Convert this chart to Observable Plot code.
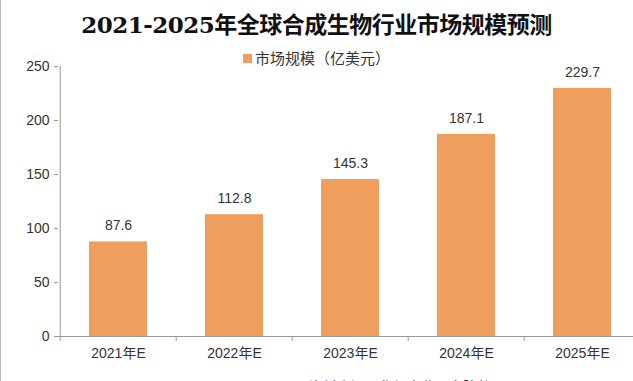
<!DOCTYPE html>
<html><head><meta charset="utf-8">
<script src="https://cdn.jsdelivr.net/npm/d3@7"></script>
<script src="https://cdn.jsdelivr.net/npm/@observablehq/plot@0.6"></script>
<style>
html,body{margin:0;padding:0;background:#fff;}
#wrap{position:relative;width:633px;height:381px;overflow:hidden;background:#fff;}
#lb{position:absolute;left:0;top:0;width:1px;height:381px;background:#b8b8b8;}
#title{position:absolute;left:0;width:633px;top:6px;text-align:center;font-family:"DejaVu Serif","Liberation Serif","Noto Sans CJK SC",serif;font-weight:bold;font-size:23px;color:#111;letter-spacing:-0.5px;}
#legend{position:absolute;left:0;width:633px;top:47px;text-align:center;font-family:"Liberation Sans","Noto Sans CJK SC",sans-serif;font-size:15px;color:#333;}
#legend span.sw{display:inline-block;width:9px;height:9px;background:#F09E5E;margin-right:3px;vertical-align:1px;}
#chart{position:absolute;left:0;top:56px;width:641px;}
#chart svg{max-width:none !important;}
#src{position:absolute;left:309px;top:376px;font-family:"Liberation Sans","Noto Sans CJK SC",sans-serif;font-size:14px;color:#333;white-space:nowrap;}
</style></head>
<body>
<div id="wrap">
  <div id="lb"></div>
  <div id="title"></div>
  <div id="legend"></div>
  <div id="chart"></div>
  <div id="src"></div>
</div>
<script>
const titleText = "2021-2025年全球合成生物行业市场规模预测";
const seriesName = "市场规模（亿美元）";
const sourceText = "资料来源：华经产业研究院整理";
const categories = ["2021年E","2022年E","2023年E","2024年E","2025年E"];
const values = [87.6, 112.8, 145.3, 187.1, 229.7];
const yTicks = [0, 50, 100, 150, 200, 250];

document.getElementById("title").textContent = titleText;
document.getElementById("legend").innerHTML = '<span class="sw"></span>' + seriesName;
document.getElementById("src").textContent = sourceText;

const data = categories.map((c, i) => ({cat: c, v: values[i]}));
const barColor = "#F09E5E";
const W = 641, marginLeft = 58;
const step = (W - marginLeft) / categories.length;

const chart = Plot.plot({
  width: W,
  height: 310,
  marginLeft: marginLeft,
  marginRight: 0,
  marginTop: 10,
  marginBottom: 30,
  style: {fontFamily: "'Liberation Sans', 'Noto Sans CJK SC', sans-serif", fontSize: "14px", color: "#333", background: "transparent", maxWidth: "none"},
  x: {domain: categories, paddingInner: 0.5, paddingOuter: 0.25, label: null},
  y: {domain: [0, 250], label: null},
  marks: [
    Plot.barY(data, {x: "cat", y: "v", fill: barColor}),
    Plot.text(data, {x: "cat", y: "v", text: d => d.v.toFixed(1), dy: -16, fontSize: 14, fill: "#333"}),
    Plot.axisY({ticks: yTicks, tickSize: 4, tickPadding: 5, stroke: "#999", fill: "#333", fontSize: 14, label: null}),
    Plot.axisX({tickSize: 0, tickPadding: 12, fill: "#333", fontSize: 14, label: null}),
    Plot.ruleX(categories, {x: d => d, dx: -step / 2, y1: 0, y2: -4.5, stroke: "#999"}),
    Plot.ruleY([0], {stroke: "#999"}),
    Plot.ruleX([0], {x: () => categories[0], dx: -step / 2, y1: 0, y2: 250, stroke: "#999"})
  ]
});
document.getElementById("chart").appendChild(chart);
</script>
</body></html>
